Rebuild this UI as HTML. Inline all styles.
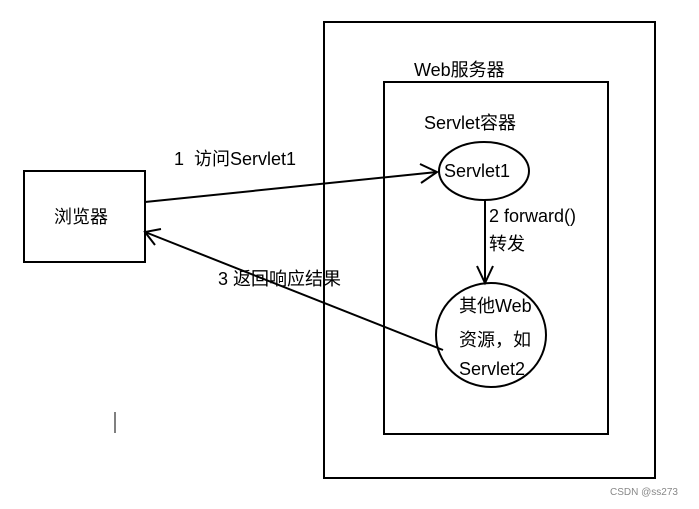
<!DOCTYPE html>
<html><head><meta charset="utf-8"><style>
body{margin:0;background:#fff;width:699px;height:504px;overflow:hidden}
svg text{font-family:"Liberation Sans","Noto Sans CJK SC",sans-serif;font-size:18px;fill:#000}
</style></head><body>
<svg width="699" height="504" xmlns="http://www.w3.org/2000/svg">
<g fill="none" stroke="#000" stroke-width="2">
<rect x="324" y="22" width="331" height="456"/>
<rect x="384" y="82" width="224" height="352"/>
<rect x="24" y="171" width="121" height="91"/>
<ellipse cx="484" cy="171" rx="45" ry="29"/>
<ellipse cx="491" cy="335" rx="55" ry="52"/>
<line x1="145" y1="202" x2="437" y2="172"/>
<polyline points="420,164 437,172 421,183"/>
<line x1="485" y1="200" x2="485" y2="283"/>
<polyline points="477,266 485,283 493,266"/>
<line x1="443" y1="350" x2="145" y2="232"/>
<polyline points="161,229 145,232 155,245"/>
<line x1="115" y1="412" x2="115" y2="433" stroke-width="1"/>
</g>
<text x="414" y="76">Web服务器</text>
<text x="424" y="129">Servlet容器</text>
<text x="174" y="165">1&#160; 访问Servlet1</text>
<text x="54" y="223">浏览器</text>
<text x="444" y="177">Servlet1</text>
<text x="489" y="222">2 forward()</text>
<text x="489" y="250">转发</text>
<text x="218" y="285">3 返回响应结果</text>
<text x="459" y="312">其他Web</text>
<text x="459" y="346">资源，如</text>
<text x="459" y="375">Servlet2</text>
<text x="610" y="495" style="font-size:10px;fill:#888">CSDN @ss273</text>
</svg>
</body></html>
